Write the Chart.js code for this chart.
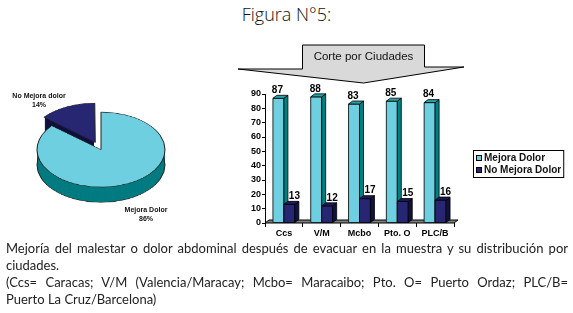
<!DOCTYPE html>
<html>
<head>
<meta charset="utf-8">
<script src="https://cdn.jsdelivr.net/npm/chart.js@4.4.0/dist/chart.umd.min.js"></script>
<style>
  body { margin: 0; width: 573px; height: 313px; background: #fff; position: relative; overflow: hidden; }
  #bars { position: absolute; left: 0; top: 0; }
  #pie { position: absolute; left: 21px; top: 91px; transform: scaleY(0.586); transform-origin: 0 0; }
  .title { position: absolute; left: 0; width: 573px; top: 2px; text-align: center; font: 300 18px "Open Sans", Lato, sans-serif; color: #111; }
  .pl { position: absolute; font: bold 7px "Liberation Sans", Arial, sans-serif; color: #111; text-align: center; line-height: 9px; }
  .cap { position: absolute; left: 6px; width: 562px; font: 13px Lato, sans-serif; color: #222; line-height: 17px; }
  .cap div { text-align: left; }
  .cap .j { text-align: justify; text-align-last: justify; }
</style>
</head>
<body>
<div class="title">Figura N°5:</div>
<canvas id="bars" width="573" height="313"></canvas>
<canvas id="pie" width="160" height="200"></canvas>
<div class="pl" id="lblNo" style="left:8px; top:91px; width:62px;"></div>
<div class="pl" id="lblSi" style="left:118px; top:205px; width:56px;"></div>
<div class="cap" style="top:240px;">
  <div class="j">Mejoría del malestar o dolor abdominal después de evacuar en la muestra y su distribución por</div>
  <div>ciudades.</div>
  <div class="j">(Ccs= Caracas; V/M (Valencia/Maracay; Mcbo= Maracaibo; Pto. O= Puerto Ordaz; PLC/B=</div>
  <div>Puerto La Cruz/Barcelona)</div>
</div>
<script>
// data
const categories = ['Ccs', 'V/M', 'Mcbo', 'Pto. O', 'PLC/B'];
const seriesNames = ['Mejora Dolor', 'No Mejora Dolor'];
const mejora = [87, 88, 83, 85, 84];
const noMejora = [13, 12, 17, 15, 16];
const yMax = 90;
const yStep = 10;
const pieLabels = ['Mejora Dolor', 'No Mejora dolor'];
const pieValues = [86, 14];

const font = 'Liberation Sans, Arial, sans-serif';
const frontCol = ['#6dcfe0', '#262673'];
const sideCol = ['#008080', '#11113f'];
const topCol = ['#2aa3a8', '#1b1b5a'];
const D = 4, H = 3; // 3d depth

document.getElementById('lblSi').innerHTML = pieLabels[0] + '<br>' + pieValues[0] + '%';
document.getElementById('lblNo').innerHTML = pieLabels[1] + '<br>' + pieValues[1] + '%';

function poly(ctx, pts, fill) {
  ctx.beginPath();
  ctx.moveTo(pts[0][0], pts[0][1]);
  for (let i = 1; i < pts.length; i++) ctx.lineTo(pts[i][0], pts[i][1]);
  ctx.closePath();
  ctx.fillStyle = fill;
  ctx.fill();
  ctx.stroke();
}

// floor, callout box and legend
const decor = {
  id: 'decor',
  beforeDatasetsDraw(chart) {
    const ctx = chart.ctx, a = chart.chartArea;
    ctx.save();
    ctx.strokeStyle = '#000';
    ctx.lineWidth = 1;
    poly(ctx, [[a.left, a.bottom], [a.right, a.bottom], [a.right + D, a.bottom - H], [a.left + D, a.bottom - H]], '#7f7f7f');
    ctx.restore();
  },
  afterDraw(chart) {
    const ctx = chart.ctx, a = chart.chartArea;
    ctx.save();
    ctx.strokeStyle = '#000';
    ctx.lineWidth = 1;
    // callout
    const cx = (a.left + a.right) / 2 + 4;
    const top = a.top - 49;
    poly(ctx, [[cx - 61, top], [cx + 61, top], [cx + 61, top + 22], [a.right + 10, top + 22],
      [cx, top + 38], [a.left - 27, top + 24], [cx - 61, top + 24]], '#d9d9d9');
    ctx.fillStyle = '#111';
    ctx.font = '11.5px ' + font;
    ctx.textAlign = 'center';
    ctx.textBaseline = 'middle';
    ctx.fillText('Corte por Ciudades', cx, top + 12);
    // legend
    ctx.font = 'bold 10px ' + font;
    ctx.textAlign = 'left';
    const w = Math.max(...seriesNames.map(s => ctx.measureText(s).width)) + 13;
    const lx = a.right + 19, ly = a.top + 56;
    ctx.fillStyle = '#fff';
    ctx.fillRect(lx, ly, w, 27);
    ctx.strokeRect(lx + 0.5, ly + 0.5, w, 27);
    seriesNames.forEach((s, i) => {
      const yy = ly + 8 + i * 12;
      ctx.fillStyle = frontCol[i];
      ctx.fillRect(lx + 3, yy - 3, 6, 6);
      ctx.strokeRect(lx + 3.5, yy - 2.5, 5, 5);
      ctx.fillStyle = '#111';
      ctx.fillText(s, lx + 11, yy + 0.5);
    });
    ctx.restore();
  }
};

// 3d faces of the bars and value labels
const bars3d = {
  id: 'bars3d',
  afterDatasetsDraw(chart) {
    const ctx = chart.ctx;
    ctx.save();
    ctx.strokeStyle = '#000';
    ctx.lineWidth = 0.8;
    chart.data.datasets.forEach((ds, i) => {
      chart.getDatasetMeta(i).data.forEach(bar => {
        const p = bar.getProps(['x', 'y', 'base', 'width'], true);
        const l = p.x - p.width / 2, r = p.x + p.width / 2;
        poly(ctx, [[l, p.y], [r, p.y], [r, p.base], [l, p.base]], frontCol[i]);
        poly(ctx, [[r, p.y], [r + D, p.y - H], [r + D, p.base - H], [r, p.base]], sideCol[i]);
        poly(ctx, [[l, p.y], [l + D, p.y - H], [r + D, p.y - H], [r, p.y]], topCol[i]);
      });
    });
    ctx.fillStyle = '#000';
    ctx.font = 'bold 10px ' + font;
    ctx.textAlign = 'center';
    ctx.textBaseline = 'bottom';
    chart.data.datasets.forEach((ds, i) => {
      chart.getDatasetMeta(i).data.forEach((bar, j) => {
        const dx = i === 0 ? -1 : 5;
        ctx.fillText(ds.data[j], bar.x + dx, bar.y - 3);
      });
    });
    ctx.restore();
  }
};

new Chart(document.getElementById('bars'), {
  type: 'bar',
  data: {
    labels: categories,
    datasets: [
      { label: seriesNames[0], data: mejora, backgroundColor: frontCol[0] },
      { label: seriesNames[1], data: noMejora, backgroundColor: frontCol[1] }
    ]
  },
  options: {
    responsive: false,
    animation: false,
    layout: { padding: { left: 240, right: 119, top: 94, bottom: 72 } },
    datasets: { bar: { categoryPercentage: 0.58, barPercentage: 1 } },
    plugins: { legend: { display: false }, tooltip: { enabled: false } },
    scales: {
      x: {
        grid: { drawOnChartArea: false, tickLength: 4, color: '#000', offset: true },
        border: { display: false },
        ticks: { color: '#000', padding: 1, font: { family: font, weight: 'bold', size: 9 } },
        afterFit: s => { s.height = 18; }
      },
      y: {
        min: 0, max: yMax,
        grid: { drawOnChartArea: false, tickLength: 3, color: '#000' },
        border: { color: '#000' },
        ticks: { stepSize: yStep, color: '#000', padding: 1, font: { family: font, weight: 'bold', size: 9 } },
        afterFit: s => { s.width = 25; }
      }
    }
  },
  plugins: [decor, bars3d]
});

// pie side (extruded copies drawn under the top faces)
const pieDepth = {
  id: 'pieDepth',
  beforeDatasetsDraw(chart) {
    const ctx = chart.ctx;
    const sides = ['#007b80', '#10103e'];
    ctx.save();
    chart.getDatasetMeta(0).data.forEach((arc, i) => {
      const p = arc.getProps(['x', 'y', 'startAngle', 'endAngle', 'outerRadius', 'circumference'], true);
      const off = (arc.options.offset || 0) / 4;
      const fix = 1 - Math.sin(Math.min(Math.PI, p.circumference));
      const mid = (p.startAngle + p.endAngle) / 2;
      const t = off + off * fix;
      const ox = p.x + Math.cos(mid) * t, oy = p.y + Math.sin(mid) * t;
      for (let d = 26; d > 0; d--) {
        ctx.beginPath();
        ctx.moveTo(ox, oy + d);
        ctx.arc(ox, oy + d, p.outerRadius, p.startAngle, p.endAngle);
        ctx.closePath();
        ctx.fillStyle = sides[i];
        ctx.fill();
      }
      ctx.beginPath();
      ctx.arc(ox, oy + 26, p.outerRadius, p.startAngle, p.endAngle);
      ctx.strokeStyle = '#222';
      ctx.lineWidth = 1;
      ctx.stroke();
    });
    ctx.restore();
  }
};

new Chart(document.getElementById('pie'), {
  type: 'pie',
  data: {
    labels: pieLabels,
    datasets: [{
      data: pieValues,
      backgroundColor: ['#6dcfe0', '#262673'],
      borderColor: '#222',
      borderWidth: 1,
      offset: [0, 54]
    }]
  },
  options: {
    responsive: false,
    animation: false,
    radius: 64,
    plugins: { legend: { display: false }, tooltip: { enabled: false } }
  },
  plugins: [pieDepth]
});
</script>
</body>
</html>
